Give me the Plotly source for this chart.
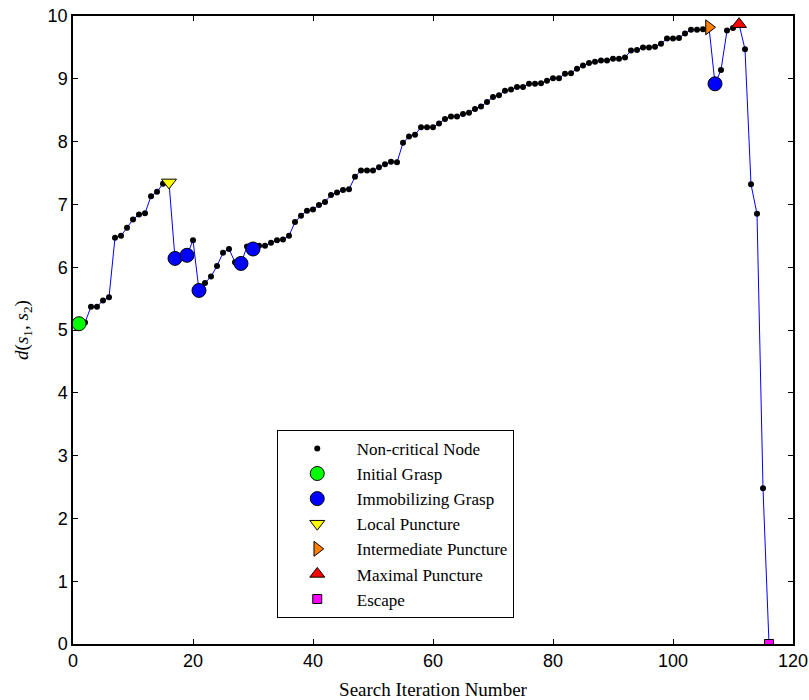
import plotly.graph_objects as go

iterations = list(range(1, 117))
distance = [
    5.10, 5.12, 5.37, 5.37, 5.47, 5.52, 6.47, 6.50, 6.63, 6.76,
    6.84, 6.86, 7.13, 7.20, 7.33, 7.35, 6.14, 6.16, 6.19, 6.43,
    5.63, 5.75, 5.85, 6.02, 6.23, 6.29, 6.08, 6.06, 6.33, 6.29,
    6.34, 6.34, 6.39, 6.43, 6.44, 6.50, 6.72, 6.82, 6.90, 6.92,
    6.99, 7.04, 7.15, 7.19, 7.23, 7.24, 7.44, 7.54, 7.54, 7.54,
    7.59, 7.64, 7.68, 7.67, 7.98, 8.08, 8.11, 8.23, 8.23, 8.23,
    8.29, 8.36, 8.40, 8.40, 8.44, 8.46, 8.52, 8.56, 8.63, 8.71,
    8.74, 8.81, 8.83, 8.87, 8.87, 8.92, 8.92, 8.93, 8.97, 9.01,
    9.01, 9.08, 9.09, 9.16, 9.21, 9.25, 9.27, 9.29, 9.29, 9.32,
    9.32, 9.34, 9.45, 9.46, 9.50, 9.50, 9.51, 9.56, 9.64, 9.64,
    9.65, 9.72, 9.78, 9.78, 9.79, 9.82, 8.92, 9.14, 9.77, 9.81,
    9.87, 9.47, 7.32, 6.85, 2.48, 0.00,
]

initial_grasp = [1]
immobilizing_grasp = [17, 19, 21, 28, 30, 107]
local_puncture = [16]
intermediate_puncture = [106]
maximal_puncture = [111]
escape = [116]

critical = set(initial_grasp + immobilizing_grasp + local_puncture +
               intermediate_puncture + maximal_puncture + escape)
non_critical = [i for i in iterations if i not in critical]


def pick(idx):
    return [i for i in idx], [distance[i - 1] for i in idx]


fig = go.Figure()
fig.add_trace(go.Scatter(x=iterations, y=distance, mode="lines",
                         line=dict(color="#0000ff", width=1),
                         showlegend=False, hoverinfo="skip"))

specs = [
    ("Non-critical Node", non_critical, "circle", "#000000", 6, 0),
    ("Initial Grasp", initial_grasp, "circle", "#00ff00", 14, 1),
    ("Immobilizing Grasp", immobilizing_grasp, "circle", "#0000ff", 14, 1),
    ("Local Puncture", local_puncture, "triangle-down", "#ffff00", 13, 1),
    ("Intermediate Puncture", intermediate_puncture, "triangle-right", "#ff8000", 13, 1),
    ("Maximal Puncture", maximal_puncture, "triangle-up", "#ff0000", 13, 1),
    ("Escape", escape, "square", "#ff00ff", 9, 1),
]
for name, idx, sym, col, size, lw in specs:
    xs, ys = pick(idx)
    fig.add_trace(go.Scatter(
        x=xs, y=ys, mode="markers", name=name,
        marker=dict(symbol=sym, color=col, size=size,
                    line=dict(color="#000000", width=lw))))

axis_common = dict(showline=True, linecolor="black", linewidth=1.5,
                   mirror="allticks", ticks="inside", ticklen=5,
                   tickwidth=1, tickcolor="black", showgrid=False,
                   zeroline=False, automargin=False,
                   ticklabeloverflow="allow",
                   tickfont=dict(family="Liberation Sans", size=18, color="black"))

fig.update_layout(
    width=809, height=700,
    margin=dict(l=73, r=16, t=16, b=56),
    paper_bgcolor="white", plot_bgcolor="white",
    xaxis=dict(range=[0, 120], dtick=20, tick0=0,
               title=dict(text="Search Iteration Number",
                          font=dict(family="Liberation Serif", size=19, color="black"),
                          standoff=12),
               **axis_common),
    yaxis=dict(range=[0, 10], dtick=1, tick0=0,
               title=dict(text="<i>d</i>(<i>s</i><sub>1</sub>, <i>s</i><sub>2</sub>)",
                          font=dict(family="Liberation Serif", size=19, color="black"),
                          standoff=14),
               **axis_common),
    legend=dict(x=0.283, y=0.341, xanchor="left", yanchor="top",
                bordercolor="black", borderwidth=1, bgcolor="white",
                font=dict(family="Liberation Serif", size=17, color="black"),
                itemwidth=69),
)

fig.write_html(
    "out.html",
    config={"displayModeBar": False},
    post_script="document.body.style.margin='0';"
                "document.documentElement.style.overflow='hidden';",
)
